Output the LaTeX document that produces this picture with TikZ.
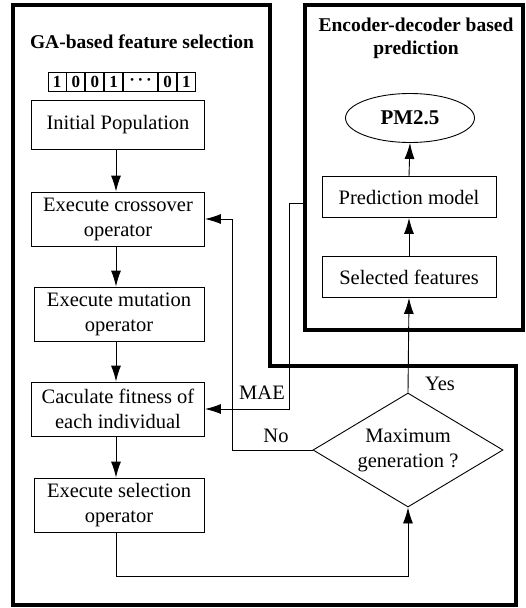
\documentclass[tikz,border=0pt]{standalone}
\usepackage{fontspec}
\setmainfont{Liberation Serif}
\usetikzlibrary{positioning,shapes.geometric,arrows.meta}

\tikzset{
  stepbox/.style={draw, line width=0.9pt, align=center, minimum width=173pt, minimum height=54pt, inner sep=2pt},
  bit/.style={draw, line width=0.9pt, minimum width=18pt, minimum height=19pt, inner sep=0pt, font=\fontsize{17}{17}\selectfont\bfseries},
  frame/.style={line width=3.4pt},
  flow/.style={line width=0.9pt, -{Latex[length=16pt,width=10pt]}},
}

\begin{document}
\begin{tikzpicture}[x=1pt, y=-1pt, font=\fontsize{20.5}{25}\selectfont]
    \useasboundingbox (0,0) rectangle (526,608);

    % the two frames
    \draw [frame] (13,5) -- (270,5) -- (270,366) -- (516,366) -- (516,605) -- (13,605) -- cycle;
    \draw [frame] (305,5) rectangle (523,330);

    \node (gatitle) at (142,42) {\fontsize{19.5}{23}\selectfont\bfseries GA-based feature selection};
    \node (enctitle) at (416,38) [align=center, font=\fontsize{19.5}{23}\selectfont\bfseries] {Encoder-decoder based\\prediction};

    % chromosome
    \node [bit] (b1) at (57,82) {1};
    \node [bit, right=0pt of b1] (b2) {0};
    \node [bit, right=0pt of b2] (b3) {0};
    \node [bit, right=0pt of b3] (b4) {1};
    \node [bit, right=0pt of b4, minimum width=34pt] (b5) {·\,·\,·};
    \node [bit, right=0pt of b5] (b6) {0};
    \node [bit, right=0pt of b6] (b7) {1};

    % GA steps
    \node [stepbox, minimum height=49pt] (init) at (118,125) {Initial Population};
    \node [stepbox] (cross) at (118,219) {Execute crossover\\operator};
    \node [stepbox, minimum width=170pt] (mut) at (119,314) {Execute mutation\\operator};
    \node [stepbox] (fit) at (118,409) {Caculate fitness of\\each individual};
    \node [stepbox, minimum width=170pt] (sel) at (119,505) {Execute selection\\operator};
    \node [draw, line width=0.9pt, diamond, aspect=1.67, minimum width=190pt, minimum height=114pt, inner sep=0pt, align=center] (maxgen) at (408,450) {Maximum\\generation ?};

    % prediction part
    \node [draw, line width=0.9pt, ellipse, minimum width=129pt, minimum height=49pt, font=\fontsize{21}{25}\selectfont\bfseries] (pm) at (410,118) {PM2.5};
    \node [stepbox, minimum width=174pt, minimum height=41pt] (pred) at (409,197) {Prediction model};
    \node [stepbox, minimum width=174pt, minimum height=41pt] (selfeat) at (409,277) {Selected features};

    \coordinate (maeout) at (305,203);

    \draw [flow] (init.south -| 116,0) -- (cross.north -| 116,0);
    \draw [flow] (cross.south -| 116,0) -- (mut.north -| 116,0);
    \draw [flow] (mut.south -| 116,0) -- (fit.north -| 116,0);
    \draw [flow] (fit.south -| 116,0) -- (sel.north -| 116,0);
    \draw [flow] (sel.south -| 116,0) -- (116,576) -| (maxgen.south);
    \draw [flow] (maxgen.west) -- (232,450) |- (cross.east);
    \draw [flow] (maxgen.north) -- (selfeat.south);
    \draw [flow] (maeout) -- (289,203) |- (fit.east);
    \draw [flow] (selfeat.north) -- (pred.south);
    \draw [flow] (pred.north) -- (pm.south);

    \node (nolabel) at (276,436) {No};
    \node (yeslabel) at (440,384) {Yes};
    \node (maelabel) at (262,393) {MAE};
\end{tikzpicture}
\end{document}
